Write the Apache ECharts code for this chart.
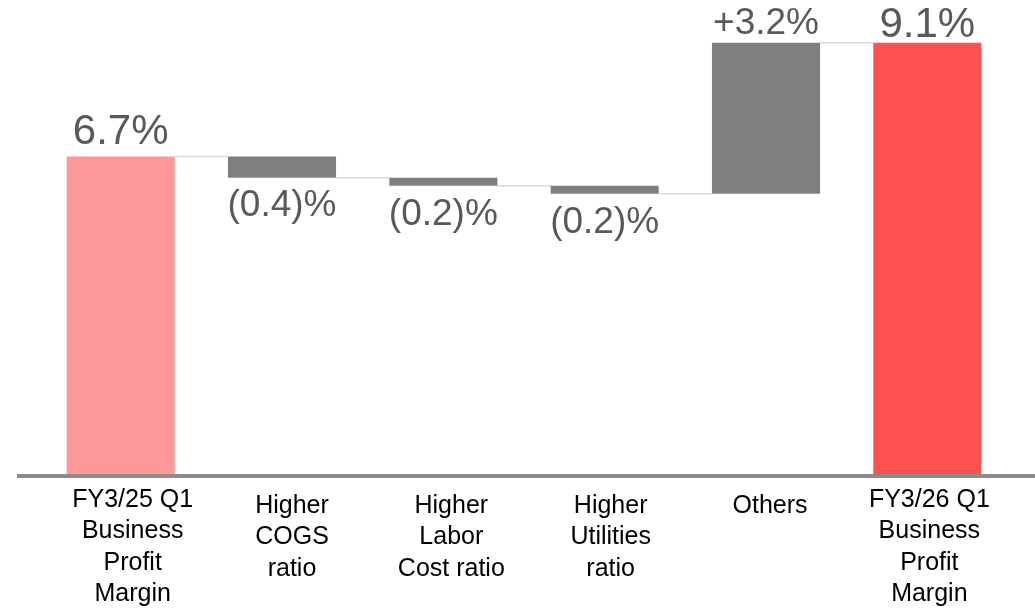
<!DOCTYPE html>
<html lang="en">
<head>
    <meta charset="UTF-8">
    <title>Business Profit Margin bridge</title>
    <script src="https://cdn.jsdelivr.net/npm/echarts@6/dist/echarts.min.js"></script>
    <style>
        html, body { margin: 0; padding: 0; background: #fff; }
        #chart { width: 1035px; height: 610px; }
    </style>
</head>
<body>
<div id="chart"></div>
<script type="text/javascript">
// data
var categories = [
    "FY3/25 Q1\nBusiness\nProfit\nMargin",
    "Higher\nCOGS\nratio",
    "Higher\nLabor\nCost ratio",
    "Higher\nUtilities\nratio",
    "Others",
    "FY3/26 Q1\nBusiness\nProfit\nMargin"
];
var startValue = 6.7;
var changes = [-0.45, -0.17, -0.17, 3.19];   // bar heights as drawn (labels are rounded)
var endValue = 9.1;
var valueLabels = ["6.7%", "(0.4)%", "(0.2)%", "(0.2)%", "+3.2%", "9.1%"];

// waterfall: invisible base + visible part
var baseData = [0];
var barData = [{value: startValue, itemStyle: {color: "#FF9999"}, label: {position: "top", fontSize: 42, distance: 3}}];
var levels = [[0, startValue]];
var running = startValue;
changes.forEach(function (c, i) {
    var neg = c < 0;
    baseData.push(neg ? running + c : running);
    barData.push({
        value: Math.abs(c),
        itemStyle: {color: "#7F7F7F"},
        label: {position: neg ? "bottom" : "top", fontSize: 37, distance: neg ? 10 : 0}
    });
    running += c;
    levels.push([i + 1, running]);
});
baseData.push(0);
barData.push({value: endValue, itemStyle: {color: "#FF5050"}, label: {position: "top", fontSize: 42, distance: -4}});

var barRatio = 0.67;
var labelFont = "Liberation Sans, Arial, sans-serif";

// long (4 line) labels sit a bit higher than the short ones
function isLong(v) { return v.split("\n").length > 3; }
function axisLabelStyle(margin, showLong) {
    return {
        interval: 0,
        margin: margin,
        color: "#000",
        fontFamily: labelFont,
        fontSize: 25,
        lineHeight: 31.5,
        formatter: function (v) { return isLong(v) === showLong ? v : ""; }
    };
}

var chart = echarts.init(document.getElementById("chart"));
var option = {
    animation: false,
    // grid 0: bars, grid 1: category text (spaced slightly tighter in the original)
    grid: [
        {left: 40, right: 27, top: 0, bottom: 136},
        {left: 53, right: 26, top: 0, bottom: 136}
    ],
    xAxis: [
        {
            type: "category",
            gridIndex: 0,
            data: categories,
            axisLine: {show: false},
            axisTick: {show: false},
            axisLabel: {show: false}
        },
        {
            type: "category",
            gridIndex: 1,
            data: categories,
            axisLine: {show: false},
            axisTick: {show: false},
            axisLabel: axisLabelStyle(12, true)
        },
        {
            type: "category",
            gridIndex: 1,
            data: categories,
            position: "bottom",
            axisLine: {show: false},
            axisTick: {show: false},
            axisLabel: axisLabelStyle(18, false)
        }
    ],
    yAxis: [
        {type: "value", gridIndex: 0, min: 0, max: 10, show: false},
        {type: "value", gridIndex: 1, min: 0, max: 10, show: false}
    ],
    series: [
        {
            type: "bar",
            stack: "total",
            data: baseData,
            barWidth: "67%",
            itemStyle: {color: "transparent"},
            silent: true
        },
        {
            type: "bar",
            stack: "total",
            data: barData,
            barWidth: "67%",
            label: {
                show: true,
                color: "#595959",
                fontFamily: labelFont,
                formatter: function (p) { return valueLabels[p.dataIndex]; }
            }
        },
        {
            type: "custom",
            data: levels,
            z: 1,
            renderItem: function (params, api) {
                var p1 = api.coord([api.value(0), api.value(1)]);
                var p2 = api.coord([api.value(0) + 1, api.value(1)]);
                var half = api.size([1, 0])[0] * barRatio / 2;
                return {
                    type: "line",
                    shape: {x1: p1[0] + half, y1: p1[1], x2: p2[0] - half, y2: p2[1]},
                    style: {stroke: "#D9D9D9", lineWidth: 1.5}
                };
            }
        }
    ]
};
chart.setOption(option);

// baseline across the full width
var y0 = chart.convertToPixel({yAxisIndex: 0}, 0);
chart.setOption({
    graphic: [{
        type: "line",
        shape: {x1: 17, y1: y0 + 2, x2: 1035, y2: y0 + 2},
        style: {stroke: "#8C8C8C", lineWidth: 4},
        z: 10
    }]
});
</script>
</body>
</html>
